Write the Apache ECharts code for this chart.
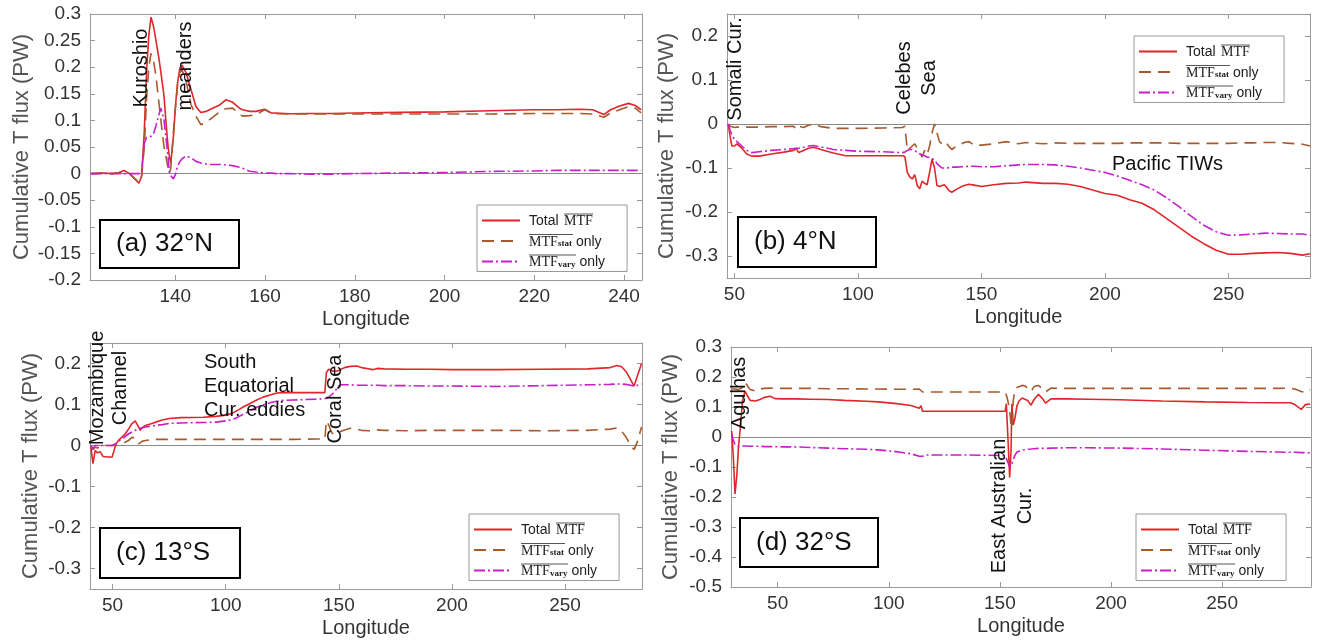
<!DOCTYPE html>
<html><head><meta charset="utf-8">
<script src="https://cdn.jsdelivr.net/npm/echarts@6/dist/echarts.min.js"></script>
<style>html,body{margin:0;padding:0;background:#fff}#c{width:1318px;height:642px}</style>
</head><body><div id="c"></div>
<script>
// ---------------- DATA ----------------
const seriesNames = ['Total MTF', 'MTF_stat only', 'MTF_vary only'];

// (a) 32°N
const lonA = [121.2,124,126,127.5,128.6,129.8,131,131.9,132.5,133.1,133.6,134.1,134.6,135.2,135.7,136.4,136.8,137.2,137.5,137.9,138.4,138.7,139.0,139.6,140.1,140.5,141.0,141.5,142.4,143.5,144.6,145.7,146.9,147.6,149.9,150.6,151.3,152.8,154.3,155,156.6,158,159.9,161.4,162.5,165.5,170,175,180,190,200,210,220,225,230,233,235.5,237,239,241,242.5,243.8];
const totalA = [0,0.001,0,0.002,0.006,0,-0.01,-0.018,-0.005,0.08,0.19,0.26,0.294,0.275,0.25,0.214,0.19,0.165,0.145,0.1,0.05,0.032,0.02,0.07,0.133,0.17,0.198,0.204,0.19,0.158,0.126,0.115,0.117,0.12,0.129,0.134,0.139,0.134,0.123,0.12,0.117,0.117,0.121,0.114,0.114,0.1125,0.113,0.113,0.114,0.115,0.116,0.118,0.12,0.12,0.121,0.12,0.111,0.12,0.127,0.132,0.128,0.12];
const statA = [0,0.001,0,0.002,0.005,0,-0.01,-0.015,-0.005,0.05,0.14,0.2,0.226,0.21,0.183,0.13,0.1,0.07,0.05,0.033,0.01,0.001,0.01,0.08,0.13,0.165,0.19,0.195,0.175,0.13,0.108,0.092,0.096,0.101,0.116,0.12,0.122,0.123,0.112,0.108,0.109,0.111,0.12,0.114,0.1125,0.112,0.112,0.112,0.112,0.112,0.112,0.112,0.113,0.113,0.113,0.112,0.106,0.114,0.12,0.126,0.123,0.114];
const varyA = [0,0,0,0,0,0,0,0,0.002,0.057,0.068,0.07,0.07,0.076,0.09,0.112,0.123,0.12,0.1,0.07,0.03,0.001,-0.004,-0.01,0,0.014,0.022,0.028,0.033,0.03,0.023,0.02,0.018,0.017,0.017,0.017,0.016,0.015,0.012,0.01,0.0045,0.003,0.001,0.001,0,0,-0.001,-0.001,0,0.001,0.002,0.004,0.005,0.006,0.006,0.006,0.006,0.006,0.006,0.006,0.006,0.006];

// (b) 4°N
const lonB = [47.5,48.3,49,50,51,53,55,57,60,65,70,74,75,76,78,80,82,85,90,95,100,110,118,119,120,121,122,123,124,125,126,127,128,129,130,131,132,133,134,135,136,137,138,140,142,143,145,147,150,155,160,165,168,175,180,185,190,195,200,205,210,215,220,225,230,235,240,245,250,255,260,265,270,275,280,283];
const totalB = [0,-0.03,-0.05,-0.05,-0.045,-0.055,-0.068,-0.073,-0.073,-0.068,-0.064,-0.06,-0.056,-0.065,-0.06,-0.055,-0.053,-0.058,-0.066,-0.072,-0.072,-0.072,-0.072,-0.074,-0.11,-0.12,-0.125,-0.115,-0.14,-0.147,-0.13,-0.135,-0.138,-0.11,-0.08,-0.1,-0.14,-0.142,-0.14,-0.138,-0.145,-0.152,-0.155,-0.148,-0.142,-0.14,-0.137,-0.139,-0.142,-0.138,-0.135,-0.134,-0.132,-0.135,-0.135,-0.137,-0.142,-0.15,-0.158,-0.162,-0.172,-0.18,-0.195,-0.215,-0.235,-0.255,-0.272,-0.287,-0.296,-0.296,-0.294,-0.293,-0.292,-0.294,-0.298,-0.295];
const statB = [0,-0.005,-0.008,-0.008,-0.007,-0.007,-0.007,-0.007,-0.007,-0.006,-0.006,-0.005,-0.012,-0.005,-0.008,-0.003,0,-0.006,-0.01,-0.01,-0.01,-0.009,-0.008,-0.005,-0.06,-0.055,-0.05,-0.045,-0.055,-0.065,-0.075,-0.06,-0.07,-0.05,-0.02,0,-0.02,-0.04,-0.045,-0.05,-0.045,-0.052,-0.058,-0.05,-0.045,-0.042,-0.04,-0.048,-0.048,-0.045,-0.04,-0.045,-0.042,-0.045,-0.043,-0.044,-0.044,-0.044,-0.044,-0.044,-0.043,-0.043,-0.043,-0.043,-0.044,-0.044,-0.044,-0.044,-0.044,-0.043,-0.043,-0.042,-0.042,-0.044,-0.046,-0.05];
const varyB = [0,-0.015,-0.025,-0.035,-0.04,-0.05,-0.06,-0.065,-0.063,-0.06,-0.058,-0.056,-0.055,-0.055,-0.053,-0.05,-0.049,-0.052,-0.058,-0.06,-0.062,-0.063,-0.065,-0.064,-0.06,-0.058,-0.058,-0.06,-0.065,-0.068,-0.07,-0.072,-0.075,-0.076,-0.078,-0.082,-0.09,-0.095,-0.1,-0.1,-0.1,-0.099,-0.098,-0.098,-0.097,-0.097,-0.096,-0.096,-0.097,-0.097,-0.095,-0.093,-0.092,-0.092,-0.093,-0.096,-0.1,-0.105,-0.11,-0.118,-0.128,-0.138,-0.15,-0.168,-0.188,-0.21,-0.23,-0.245,-0.253,-0.252,-0.25,-0.248,-0.249,-0.25,-0.25,-0.253];

// (c) 13°S
const lonC = [40.3,41.3,42.3,43.3,44.5,45.8,48,49.8,50.5,51.5,52.5,54,55.5,57,58.5,60,60.8,61.5,62.2,63,64.5,67,69,72,75,80,90,95.7,100,103,106,108,110.6,113,116.5,120,122.5,125,130,140,143.8,144.5,145.5,147,148.5,150,151,152.5,155,158,160,163,165,167,170,180,190,200,220,240,260,270,273,275,277,279,280.5,282,283.8];
const totalC = [0,-0.044,-0.012,-0.018,-0.015,-0.027,-0.028,-0.028,-0.027,0.004,0.012,0.02,0.028,0.04,0.053,0.06,0.061,0.045,0.037,0.043,0.049,0.053,0.057,0.062,0.066,0.068,0.069,0.071,0.074,0.079,0.088,0.095,0.102,0.109,0.118,0.124,0.128,0.129,0.129,0.129,0.129,0.178,0.186,0.182,0.181,0.183,0.186,0.19,0.193,0.194,0.19,0.187,0.185,0.188,0.187,0.186,0.186,0.185,0.185,0.186,0.187,0.19,0.195,0.192,0.18,0.16,0.145,0.17,0.2];
const statC = [0,-0.01,-0.004,-0.006,-0.003,0,0,0,0,0,0.002,0.005,0.008,0.012,0.02,0.018,0.012,0.004,0.005,0.01,0.012,0.014,0.015,0.015,0.015,0.015,0.015,0.015,0.015,0.015,0.015,0.015,0.015,0.015,0.015,0.015,0.015,0.015,0.015,0.016,0.016,0.06,0.05,0.03,0.028,0.032,0.035,0.038,0.042,0.04,0.037,0.036,0.035,0.038,0.037,0.036,0.037,0.037,0.037,0.036,0.037,0.04,0.043,0.035,0.02,0,-0.01,0.01,0.045];
const varyC = [0,-0.008,0,0,0,0,0,0,0.002,0.005,0.01,0.016,0.022,0.028,0.033,0.037,0.039,0.041,0.042,0.043,0.045,0.047,0.049,0.051,0.054,0.055,0.056,0.057,0.06,0.063,0.071,0.077,0.084,0.092,0.099,0.105,0.108,0.11,0.111,0.113,0.114,0.116,0.118,0.125,0.134,0.146,0.148,0.148,0.148,0.147,0.147,0.147,0.147,0.147,0.146,0.146,0.145,0.145,0.144,0.146,0.148,0.149,0.15,0.15,0.149,0.147,0.145,0.147,0.15];

// (d) 32°S
const lonD = [29.3,30,30.8,31.6,32.4,33.2,34.2,35.3,36.2,37.6,40,42.1,44,46.6,48.8,52,57.8,65,72.7,80.1,90,95.1,102.5,110,113.7,114.5,115.2,117,125,135,145,152.4,152.9,153.6,154.4,155,155.4,156,156.7,157.7,158.6,160,161.5,162.5,164,165.4,167.3,169.2,170.5,173,180,190,203.8,223,242.3,261.5,275,280.8,282.7,285.6,287.5,289.6];
const totalD = [0.02,-0.06,-0.19,-0.13,-0.03,0.03,0.12,0.153,0.14,0.122,0.12,0.125,0.132,0.136,0.128,0.127,0.127,0.126,0.125,0.122,0.119,0.117,0.112,0.105,0.096,0.104,0.086,0.086,0.086,0.086,0.086,0.086,0.111,0,-0.135,-0.05,0.111,0.04,0.06,0.105,0.12,0.13,0.125,0.122,0.106,0.125,0.142,0.128,0.113,0.127,0.127,0.126,0.124,0.12,0.117,0.115,0.114,0.114,0.108,0.092,0.108,0.11];
const statD = [0.16,0.16,0.16,0.16,0.158,0.155,0.165,0.183,0.178,0.158,0.153,0.16,0.162,0.163,0.162,0.162,0.162,0.162,0.161,0.161,0.16,0.16,0.159,0.159,0.16,0.166,0.15,0.15,0.15,0.15,0.15,0.15,0.14,0.12,0.09,0.04,0.03,0.12,0.155,0.165,0.17,0.172,0.17,0.16,0.152,0.168,0.172,0.16,0.15,0.163,0.162,0.162,0.162,0.162,0.162,0.162,0.162,0.163,0.16,0.152,0.148,0.158];
const varyD = [0.01,-0.01,-0.025,-0.03,-0.032,-0.03,-0.03,-0.03,-0.03,-0.031,-0.031,-0.031,-0.032,-0.032,-0.032,-0.033,-0.033,-0.035,-0.037,-0.039,-0.041,-0.043,-0.048,-0.056,-0.064,-0.066,-0.064,-0.06,-0.06,-0.06,-0.061,-0.062,-0.068,-0.085,-0.1,-0.095,-0.09,-0.075,-0.062,-0.05,-0.046,-0.044,-0.042,-0.041,-0.04,-0.039,-0.038,-0.038,-0.038,-0.037,-0.036,-0.036,-0.037,-0.04,-0.044,-0.048,-0.05,-0.051,-0.051,-0.052,-0.052,-0.053];

// tick labels
const xTicksA = [140,160,180,200,220,240];
const yTicksA = [-0.2,-0.15,-0.1,-0.05,0,0.05,0.1,0.15,0.2,0.25,0.3];
const xTicksB = [50,100,150,200,250];
const yTicksB = [-0.3,-0.2,-0.1,0,0.1,0.2];
const xTicksC = [50,100,150,200,250];
const yTicksC = [-0.3,-0.2,-0.1,0,0.1,0.2];
const xTicksD = [50,100,150,200,250];
const yTicksD = [-0.5,-0.4,-0.3,-0.2,-0.1,0,0.1,0.2,0.3];

const panelLabels = ['(a) 32°N','(b) 4°N','(c) 13°S','(d) 32°S'];

// ---------------- LAYOUT / STYLE ----------------
const SANS = 'Liberation Sans, Arial, sans-serif';
const SERIF = 'Liberation Serif, Times New Roman, serif';
const colors = ['#e0262b', '#a65a2e', '#c81fc8'];
const dashes = ['solid', [12,7], [11,3,2,3]];
const axisGray = '#9a9a9a';

const panels = [
  {lon: lonA, vals: [totalA, statA, varyA], xMin:121, xMax:244, yMin:-0.2, yMax:0.3, xt:xTicksA, yt:yTicksA,
   grid:{left:90, top:14, width:552, height:266}, yGap:57, legend:{left:477, top:205}, box:{x:100,y:220,w:139,h:48}},
  {lon: lonB, vals: [totalB, statB, varyB], xMin:47, xMax:283, yMin:-0.35, yMax:0.25, xt:xTicksB, yt:yTicksB,
   grid:{left:727, top:14, width:583, height:264}, yGap:49, legend:{left:1134, top:36}, box:{x:738,y:217,w:138,h:50}},
  {lon: lonC, vals: [totalC, statC, varyC], xMin:40, xMax:284, yMin:-0.35, yMax:0.25, xt:xTicksC, yt:yTicksC,
   grid:{left:90, top:343, width:552, height:246}, yGap:48, legend:{left:469, top:514}, box:{x:100,y:528,w:140,h:50}},
  {lon: lonD, vals: [totalD, statD, varyD], xMin:29, xMax:290, yMin:-0.5, yMax:0.3, xt:xTicksD, yt:yTicksD,
   grid:{left:731, top:347, width:580, height:240}, yGap:49, legend:{left:1136, top:514}, box:{x:740,y:518,w:138,h:49}}
];

const annotations = [
  {text:'Kuroshio', x:141, y:68, rot:true},
  {text:'meanders', x:185, y:66, rot:true},
  {text:'Somali Cur.', x:735, y:69, rot:true},
  {text:'Celebes', x:904, y:78, rot:true},
  {text:'Sea', x:929, y:78, rot:true},
  {text:'Pacific TIWs', x:1112, y:164, rot:false},
  {text:'Mozambique', x:97, y:388, rot:true},
  {text:'Channel', x:120, y:388, rot:true},
  {text:'South\nEquatorial\nCur. eddies', x:204, y:386, rot:false},
  {text:'Coral Sea', x:335, y:399, rot:true},
  {text:'Agulhas', x:739, y:393, rot:true},
  {text:'East Australian', x:999, y:506, rot:true},
  {text:'Cur.', x:1025, y:506, rot:true}
];

// ---------------- BUILD ----------------
const grids = [], xAxes = [], yAxes = [], series = [], legends = [], graphics = [];

const legendRich = {
  g:   {width:4, height:1, lineHeight:2},
  sp:  {width:35, height:1, lineHeight:2},
  ol:  {width:29, height:1, lineHeight:2, backgroundColor:'#555'},
  ol2: {width:44, height:1, lineHeight:2, backgroundColor:'#555'},
  ol3: {width:47, height:1, lineHeight:2, backgroundColor:'#555'},
  g2:  {width:4, fontSize:14, lineHeight:13},
  tt:  {width:35, fontSize:14, fontFamily:SANS, color:'#222', lineHeight:13},
  t:   {fontSize:14, fontFamily:SANS, color:'#222', lineHeight:13},
  m:   {width:29, fontSize:14, fontFamily:SERIF, color:'#222', lineHeight:13},
  sub: {fontSize:9, fontFamily:SERIF, fontWeight:'bold', color:'#222', lineHeight:8, verticalAlign:'bottom'}
};
function legendFormatter(name) {
  if (name === seriesNames[0]) return '{g|}{sp|}{ol|}\n{g2|}{tt|Total }{m|MTF}';
  if (name === seriesNames[1]) return '{g|}{ol2|}\n{g2|}{m|MTF}{sub|stat}{t| only}';
  return '{g|}{ol3|}\n{g2|}{m|MTF}{sub|vary}{t| only}';
}

panels.forEach((p, i) => {
  grids.push(Object.assign({containLabel:false, show:false}, p.grid));
  const lineStyle = {color: axisGray, width: 1};
  const tickStyle = {color: axisGray, width: 1};
  xAxes.push({
    gridIndex:i, type:'value', position:'bottom', min:p.xMin, max:p.xMax,
    axisLine:{show:true, onZero:false, lineStyle},
    axisTick:{show:true, inside:true, length:5, customValues:p.xt, lineStyle:tickStyle},
    axisLabel:{show:true, customValues:p.xt, fontSize:19, color:'#333', margin:7, fontFamily:SANS},
    splitLine:{show:false},
    name:'Longitude', nameLocation:'middle', nameGap:29,
    nameTextStyle:{fontSize:20, color:'#333', fontFamily:SANS}
  });
  xAxes.push({
    gridIndex:i, type:'value', position:'top', min:p.xMin, max:p.xMax,
    axisLine:{show:true, onZero:false, lineStyle},
    axisTick:{show:true, inside:true, length:5, customValues:p.xt, lineStyle:tickStyle},
    axisLabel:{show:false}, splitLine:{show:false}
  });
  yAxes.push({
    gridIndex:i, type:'value', position:'left', min:p.yMin, max:p.yMax,
    axisLine:{show:true, onZero:false, lineStyle},
    axisTick:{show:true, inside:true, length:5, customValues:p.yt, lineStyle:tickStyle},
    axisLabel:{show:true, customValues:p.yt, fontSize:19, color:'#333', margin:9, fontFamily:SANS},
    splitLine:{show:false},
    name:'Cumulative T flux (PW)', nameLocation:'middle', nameGap:p.yGap, nameRotate:90,
    nameTextStyle:{fontSize:22, color:'#555', fontFamily:SANS}
  });
  yAxes.push({
    gridIndex:i, type:'value', position:'right', min:p.yMin, max:p.yMax,
    axisLine:{show:true, onZero:false, lineStyle},
    axisTick:{show:true, inside:true, length:5, customValues:p.yt, lineStyle:tickStyle},
    axisLabel:{show:false}, splitLine:{show:false}
  });
  seriesNames.forEach((nm, k) => {
    const s = {
      type:'line', name:nm, xAxisIndex:2*i, yAxisIndex:2*i,
      data: p.lon.map((x, j) => [x, p.vals[k][j]]),
      symbol:'none', showSymbol:false,
      lineStyle:{color:colors[k], width:1.6, type:dashes[k]},
      itemStyle:{color:colors[k]},
      z: 3 + k
    };
    if (k === 0) {
      s.markLine = {silent:true, symbol:'none', label:{show:false},
        lineStyle:{color:'#8a8a8a', width:1, type:'solid'}, data:[{yAxis:0}], z:1};
    }
    series.push(s);
  });
  legends.push({
    data: seriesNames, orient:'vertical', left:p.legend.left, top:p.legend.top,
    itemWidth:38, itemHeight:12, itemGap:-1, padding:[2,22,2,4],
    borderColor:'#9a9a9a', borderWidth:1, backgroundColor:'#fff',
    selectedMode:false, formatter:legendFormatter,
    itemStyle:{opacity:0},
    textStyle:{rich:legendRich, fontSize:14, fontFamily:SANS}
  });
  graphics.push({type:'rect', shape:{x:p.box.x, y:p.box.y, width:p.box.w, height:p.box.h},
    style:{fill:'#fff', stroke:'#000', lineWidth:2}, z:50});
  graphics.push({type:'text', x:p.box.x + 16, y:p.box.y + p.box.h/2,
    style:{text:panelLabels[i], font:'26px ' + SANS, fill:'#111', align:'left', verticalAlign:'middle',
      textAlign:'left', textVerticalAlign:'middle'}, z:51});
});

annotations.forEach(a => {
  const el = {type:'text', x:a.x, y:a.y, z:40,
    style:{text:a.text, font:'20px ' + SANS, fill:'#111', lineHeight:24}};
  if (a.rot) {
    el.rotation = Math.PI / 2;
    Object.assign(el.style, {align:'center', verticalAlign:'middle', textAlign:'center', textVerticalAlign:'middle'});
  } else {
    Object.assign(el.style, {align:'left', verticalAlign:'middle', textAlign:'left', textVerticalAlign:'middle'});
  }
  graphics.push(el);
});

const chart = echarts.init(document.getElementById('c'), null, {renderer:'canvas'});
chart.setOption({
  animation:false,
  backgroundColor:'#fff',
  textStyle:{fontFamily:SANS},
  grid:grids, xAxis:xAxes, yAxis:yAxes, series:series, legend:legends,
  graphic:{elements:graphics}
});
</script></body></html>
